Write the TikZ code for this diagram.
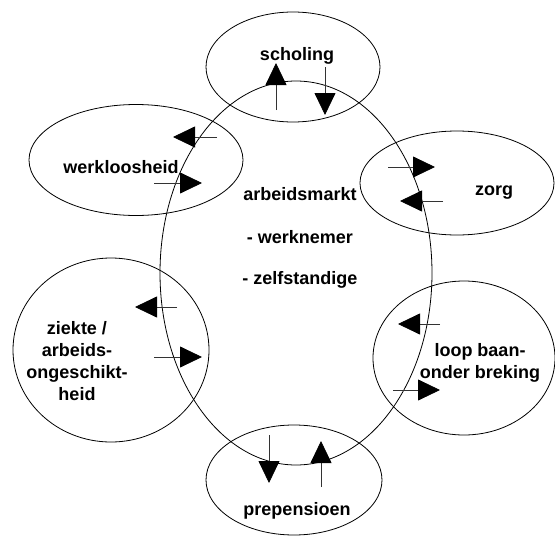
\documentclass[tikz,border=0pt]{standalone}
\usepackage{fontspec}
\setmainfont{Liberation Sans}
\usetikzlibrary{shapes.geometric, arrows.meta}

\begin{document}
\begin{tikzpicture}[x=1pt, y=-1pt,
                ring_style/.style={ellipse, draw=black, line width=0.8pt, inner sep=0pt},
                text_style/.style={font=\fontsize{18}{22}\selectfont\bfseries, align=center, inner sep=0pt, anchor=base},
                flow_style/.style={draw=black!80, line width=0.8pt, -{Triangle[length=22pt, width=21pt, color=black]}}]
                \useasboundingbox (0,0) rectangle (555,536);
                % rings
                \node[ring_style, minimum width=272pt, minimum height=384pt] (markt) at (296,273) {};
                \node[ring_style, minimum width=174pt, minimum height=110pt] (scholing) at (293,67) {};
                \node[ring_style, minimum width=214pt, minimum height=111pt] (werkloos) at (136,160) {};
                \node[ring_style, minimum width=194pt, minimum height=104pt] (zorg) at (457,183) {};
                \node[ring_style, minimum width=196pt, minimum height=184pt] (ziekte) at (111,350) {};
                \node[ring_style, minimum width=182pt, minimum height=154pt] (loop) at (464,358) {};
                \node[ring_style, minimum width=176pt, minimum height=110pt] (pensioen) at (294,480) {};
                % labels (base = last line)
                \node[text_style] (t_markt) at (300,284) {arbeidsmarkt\\[21pt] - werknemer\\[19pt] - zelfstandige};
                \node[text_style] (t_scholing) at (297,60) {scholing};
                \node[text_style] (t_werkloos) at (121,173) {werkloosheid};
                \node[text_style] (t_zorg) at (494,195) {zorg};
                \node[text_style] (t_ziekte) at (77,400) {ziekte /\\arbeids-\\ongeschikt-\\heid};
                \node[text_style] (t_loop) at (480,378) {loop baan-\\onder breking};
                \node[text_style] (t_pensioen) at (297,515) {prepensioen};
                % arrow ends
                \coordinate (s1a) at (276,110); \coordinate (s1b) at (276,63);
                \coordinate (s2a) at (325,67);  \coordinate (s2b) at (325,115);
                \coordinate (w1a) at (217,137); \coordinate (w1b) at (173,137);
                \coordinate (w2a) at (154,183); \coordinate (w2b) at (202,183);
                \coordinate (z1a) at (388,167); \coordinate (z1b) at (435,167);
                \coordinate (z2a) at (443,201); \coordinate (z2b) at (400,201);
                \coordinate (a1a) at (177,307); \coordinate (a1b) at (135,307);
                \coordinate (a2a) at (154,357); \coordinate (a2b) at (202,357);
                \coordinate (l1a) at (440,324); \coordinate (l1b) at (398,324);
                \coordinate (l2a) at (393,390); \coordinate (l2b) at (440,390);
                \coordinate (p1a) at (269,435); \coordinate (p1b) at (269,483);
                \coordinate (p2a) at (321,487); \coordinate (p2b) at (321,441);
                \draw[flow_style] (s1a) -- (s1b);
                \draw[flow_style] (s2a) -- (s2b);
                \draw[flow_style] (w1a) -- (w1b);
                \draw[flow_style] (w2a) -- (w2b);
                \draw[flow_style] (z1a) -- (z1b);
                \draw[flow_style] (z2a) -- (z2b);
                \draw[flow_style] (a1a) -- (a1b);
                \draw[flow_style] (a2a) -- (a2b);
                \draw[flow_style] (l1a) -- (l1b);
                \draw[flow_style] (l2a) -- (l2b);
                \draw[flow_style] (p1a) -- (p1b);
                \draw[flow_style] (p2a) -- (p2b);
            \end{tikzpicture}
\end{document}
